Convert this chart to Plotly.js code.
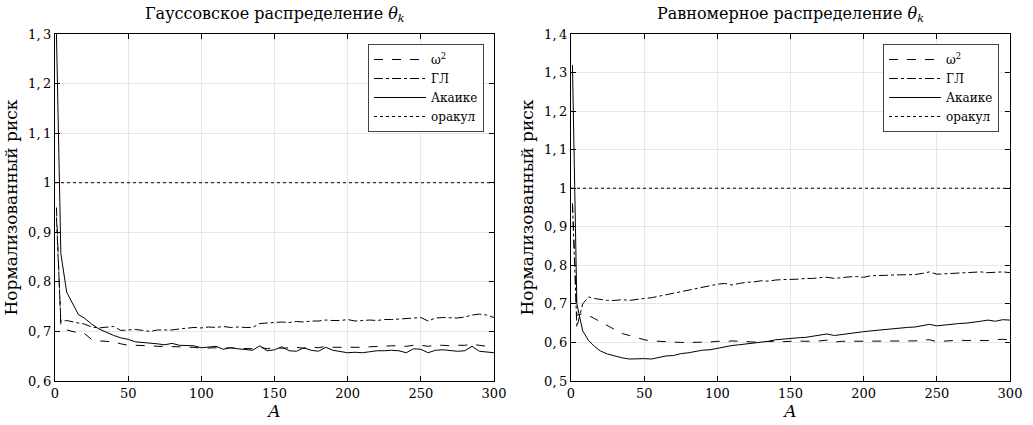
<!DOCTYPE html>
<html>
<head>
<meta charset="utf-8">
<script src="https://cdn.plot.ly/plotly-3.0.1.min.js"></script>
<style>html,body{margin:0;padding:0;background:#fff;}#chart{width:1033px;height:425px;}</style>
</head>
<body>
<div id="chart"></div>
<script>
// Shared x values (A)
const A = [1,4,8,12,16,20,25,30,35,40,45,50,55,60,65,70,75,80,85,90,95,100,105,110,115,120,125,130,135,140,145,150,155,160,165,170,175,180,185,190,195,200,205,210,215,220,225,230,235,240,245,250,255,260,265,270,275,280,285,290,295,300];

// Left panel: Gaussian distribution
const gaussOmega2 = [0.95,0.71,0.703,0.700,0.697,0.696,0.684,0.681,0.680,0.679,0.675,0.672,0.672,0.672,0.671,0.670,0.670,0.669,0.669,0.668,0.668,0.666,0.667,0.667,0.666,0.667,0.666,0.666,0.665,0.668,0.665,0.668,0.666,0.667,0.668,0.666,0.669,0.667,0.670,0.668,0.668,0.667,0.668,0.668,0.669,0.670,0.670,0.671,0.671,0.670,0.672,0.672,0.670,0.672,0.672,0.671,0.672,0.672,0.674,0.672,0.670,0.670];
const gaussGL = [0.93,0.72,0.722,0.719,0.717,0.715,0.709,0.707,0.709,0.710,0.702,0.703,0.704,0.702,0.700,0.703,0.703,0.703,0.705,0.706,0.708,0.707,0.709,0.708,0.710,0.708,0.709,0.708,0.708,0.716,0.717,0.718,0.719,0.718,0.720,0.719,0.721,0.721,0.723,0.722,0.722,0.724,0.721,0.722,0.723,0.722,0.724,0.724,0.725,0.725,0.726,0.728,0.721,0.727,0.728,0.727,0.727,0.729,0.733,0.735,0.733,0.728];
const gaussAkaike = [1.30,0.857,0.779,0.755,0.734,0.727,0.715,0.705,0.698,0.692,0.687,0.684,0.679,0.678,0.677,0.675,0.673,0.676,0.672,0.671,0.671,0.667,0.668,0.670,0.664,0.667,0.665,0.664,0.662,0.671,0.661,0.663,0.669,0.661,0.660,0.667,0.662,0.660,0.668,0.662,0.659,0.657,0.658,0.657,0.659,0.661,0.661,0.662,0.661,0.657,0.665,0.664,0.657,0.662,0.663,0.661,0.660,0.661,0.670,0.660,0.658,0.657];

// Right panel: uniform distribution
const unifOmega2 = [0.96,0.67,0.675,0.670,0.662,0.654,0.643,0.632,0.623,0.618,0.612,0.607,0.604,0.603,0.601,0.600,0.600,0.600,0.600,0.601,0.601,0.603,0.602,0.604,0.603,0.602,0.601,0.602,0.603,0.603,0.602,0.603,0.604,0.603,0.603,0.604,0.606,0.601,0.603,0.603,0.604,0.604,0.603,0.603,0.603,0.603,0.603,0.603,0.604,0.606,0.607,0.602,0.603,0.605,0.606,0.605,0.605,0.604,0.605,0.607,0.608,0.607];
const unifGL = [0.96,0.64,0.70,0.718,0.714,0.711,0.709,0.709,0.711,0.709,0.712,0.714,0.716,0.720,0.724,0.728,0.731,0.735,0.739,0.743,0.746,0.751,0.753,0.749,0.753,0.756,0.757,0.760,0.759,0.762,0.763,0.763,0.764,0.766,0.766,0.768,0.769,0.766,0.769,0.770,0.771,0.769,0.773,0.773,0.774,0.775,0.775,0.776,0.776,0.779,0.783,0.777,0.778,0.779,0.779,0.781,0.782,0.783,0.781,0.782,0.783,0.781];
const unifAkaike = [1.32,0.70,0.63,0.605,0.59,0.578,0.570,0.565,0.560,0.557,0.558,0.558,0.557,0.562,0.565,0.566,0.571,0.573,0.577,0.580,0.581,0.585,0.589,0.592,0.594,0.596,0.599,0.601,0.603,0.607,0.609,0.610,0.612,0.613,0.616,0.619,0.622,0.618,0.621,0.623,0.626,0.628,0.630,0.632,0.634,0.636,0.638,0.639,0.640,0.643,0.647,0.643,0.645,0.648,0.649,0.650,0.652,0.655,0.658,0.655,0.659,0.658];

// Oracle reference level
const oracleA = [0, 300];
const oracleVal = [1, 1];

// Labels
const seriesNames = ['ω<sup>2</sup>', 'ГЛ', 'Акаике', 'оракул'];
const titles = ['Гауссовское распределение <i>θ<sub>k</sub></i>', 'Равномерное распределение <i>θ<sub>k</sub></i>'];
const yTitle = 'Нормализованный риск';
const xTitle = '<i>A</i>';
const xTicks = [0,50,100,150,200,250,300];
const xTickText = ['0','50','100','150','200','250','300'];
const yTicksLeft = [0.6,0.7,0.8,0.9,1.0,1.1,1.2,1.3];
const yTickTextLeft = ['0,\u20096','0,\u20097','0,\u20098','0,\u20099','1','1,\u20091','1,\u20092','1,\u20093'];
const yTicksRight = [0.5,0.6,0.7,0.8,0.9,1.0,1.1,1.2,1.3,1.4];
const yTickTextRight = ['0,\u20095','0,\u20096','0,\u20097','0,\u20098','0,\u20099','1','1,\u20091','1,\u20092','1,\u20093','1,\u20094'];

const FONT = 'DejaVu Serif, Liberation Serif, serif';
const dashes = ['dash','dashdot','solid','dot'];

function panelTraces(xa, ya, leg, om, gl, ak) {
  const ys = [om, gl, ak];
  const out = ys.map((y, i) => ({
    x: A, y: y, type: 'scatter', mode: 'lines', name: seriesNames[i],
    xaxis: xa, yaxis: ya, legend: leg,
    line: {color: '#000', width: 1, dash: dashes[i]}
  }));
  out.push({x: oracleA, y: oracleVal, type: 'scatter', mode: 'lines', name: seriesNames[3],
    xaxis: xa, yaxis: ya, legend: leg, line: {color: '#000', width: 1, dash: dashes[3]}});
  return out;
}

const traces = panelTraces('x','y','legend', gaussOmega2, gaussGL, gaussAkaike)
  .concat(panelTraces('x2','y2','legend2', unifOmega2, unifGL, unifAkaike));

const W = 1033, H = 425;
const axBase = {
  showline: true, linecolor: '#000', linewidth: 1, mirror: 'ticks',
  ticks: 'inside', ticklen: 5, tickcolor: '#000', tickwidth: 1,
  showgrid: true, gridcolor: '#e6e6e6', gridwidth: 1, zeroline: false,
  tickfont: {family: FONT, size: 13, color: '#000'}
};
function xAxis(dom, anchor) {
  return Object.assign({}, axBase, {domain: dom, anchor: anchor, range: [0, 300],
    tickmode: 'array', tickvals: xTicks, ticktext: xTickText,
    title: {text: xTitle, font: {family: FONT, size: 17, color: '#000'}, standoff: 4}});
}
function yAxis(dom, anchor, rng, tv, tt) {
  return Object.assign({}, axBase, {domain: dom, anchor: anchor, range: rng,
    tickmode: 'array', tickvals: tv, ticktext: tt,
    title: {text: yTitle, font: {family: FONT, size: 17, color: '#000'}, standoff: 6}});
}
const yDom = [1 - 381 / H, 1 - 34 / H];
const legBase = {bgcolor: '#fff', bordercolor: '#444', borderwidth: 1,
  font: {family: FONT, size: 12, color: '#000'}, xanchor: 'right', yanchor: 'top',
  y: 1 - 44 / H, tracegroupgap: 0, itemwidth: 52};

const layout = {
  width: W, height: H, margin: {l: 0, r: 0, t: 0, b: 0},
  paper_bgcolor: '#fff', plot_bgcolor: '#fff', showlegend: true,
  xaxis: xAxis([55 / W, 494 / W], 'y'),
  yaxis: yAxis(yDom, 'x', [0.6, 1.3], yTicksLeft, yTickTextLeft),
  xaxis2: xAxis([571 / W, 1010 / W], 'y2'),
  yaxis2: yAxis(yDom, 'x2', [0.5, 1.4], yTicksRight, yTickTextRight),
  legend: Object.assign({}, legBase, {x: 484 / W}),
  legend2: Object.assign({}, legBase, {x: 999 / W}),
  annotations: [
    {text: titles[0], xref: 'paper', yref: 'paper', x: 274.5 / W, y: 1 - 14 / H, xanchor: 'center', yanchor: 'middle', showarrow: false, font: {family: FONT, size: 16, color: '#000'}},
    {text: titles[1], xref: 'paper', yref: 'paper', x: 790.5 / W, y: 1 - 14 / H, xanchor: 'center', yanchor: 'middle', showarrow: false, font: {family: FONT, size: 16, color: '#000'}}
  ]
};

Plotly.newPlot('chart', traces, layout, {displayModeBar: false, staticPlot: true});
</script>
</body>
</html>
